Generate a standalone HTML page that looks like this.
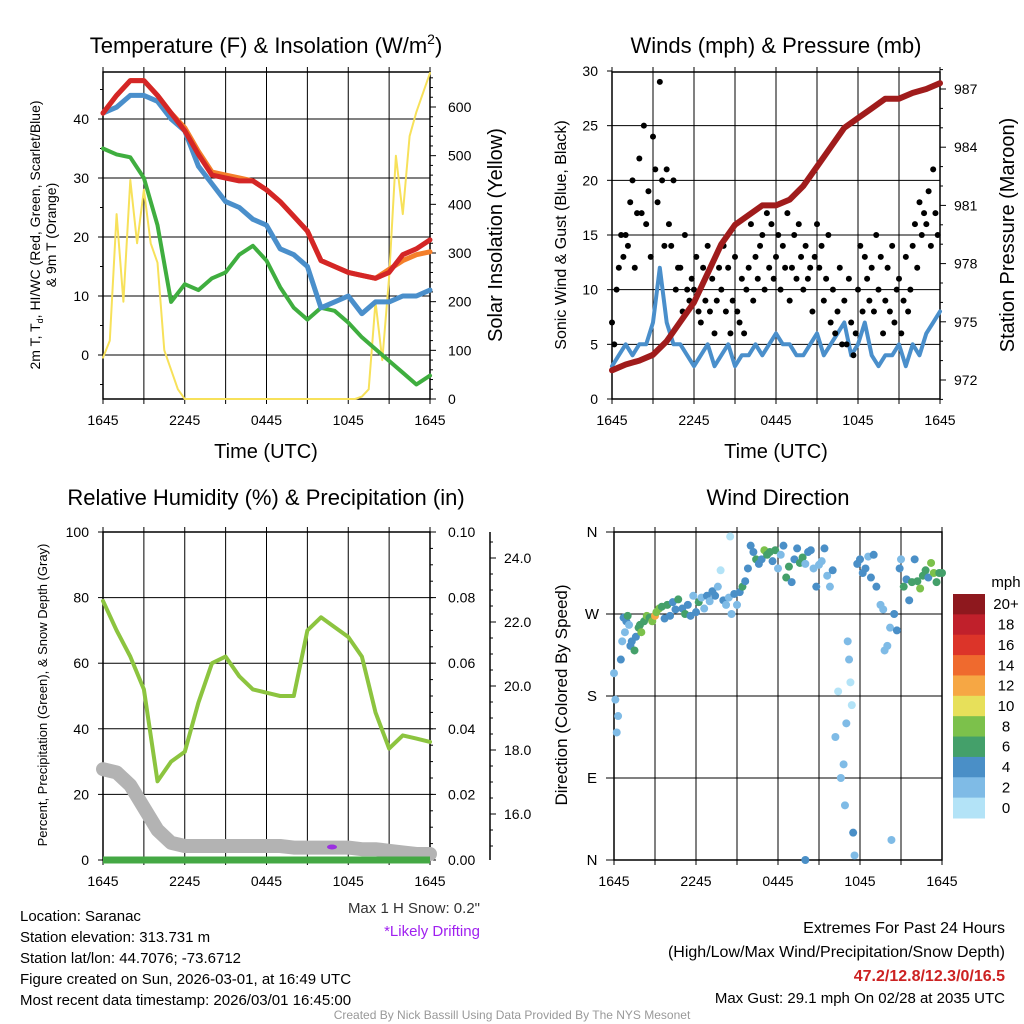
<!DOCTYPE html>
<html><head><meta charset="utf-8"><style>
body{margin:0;background:#fff}
svg{display:block;font-family:"Liberation Sans",sans-serif}
</style></head><body>
<svg id="s" width="1024" height="1024" viewBox="0 0 1024 1024">
<g id="g"></g>
</svg>
<script>
const hours=[0,1,2,3,4,5,6,7,8,9,10,11,12,13,14,15,16,17,18,19,20,21,22,23,24];
const tempRed=[41,44,46.5,46.5,44,41,38,34,30.5,30,29.5,29.5,28,26,23.5,21,16,15,14,13.5,13,14,17,18,19.5];
const tempOrange=[41,44,46.5,46.5,44,41,38.5,34.5,31,30.5,30,29.5,28,26,23.5,21,16,15,14,13.5,13,14.5,16,17,17.5];
const tempBlue=[41,42,44,44,43,40,38,32,29,26,25,23,22,18,17,15,8,9,10,7,9,9,10,10,11];
const dewGreen=[35,34,33.5,30,22,9,12,11,13,14,17,18.5,16,11.5,8,6,8,7.5,5.5,3,1,-1,-3,-5,-3.5];
const solarHalf=[85,120,380,200,450,320,430,320,280,100,60,20,0,0,0,0,0,0,0,0,0,0,0,0,0,0,0,0,0,0,0,0,0,0,0,0,0,0,5,20,200,80,250,500,380,540,590,630,670];
const pressure=[972.5,972.8,973,973.3,974,975,976,977.5,979,980,980.5,981,981,981.3,982,983,984,985,985.5,986,986.5,986.5,986.8,987,987.3];
const windHalf=[3,4,5,4,5,5,7,12,7,5,5,4,3,4,5,3,4,5,3,4,4,5,4,5,6,5,5,4,4,5,6,4,5,6,7,4,5,7,4,3,4,4,5,3,5,4,6,7,8];
const gusts=[7,5,10,12,15,13,15,14,18,20,12,17,22,17,25,16,19,13,24,21,18,29,20,14,21,16,14,20,10,12,12,8,15,10,9,11,10,13,8,7,12,9,14,8,11,6,9,12,10,14,8,12,6,9,13,8,7,11,6,10,12,16,9,13,11,14,15,10,17,12,16,11,13,15,10,14,12,17,9,12,15,11,16,13,10,14,11,12,8,13,16,12,14,9,11,15,7,10,6,8,12,5,9,5,11,7,4,6,10,14,8,13,11,9,12,8,15,10,13,6,9,12,8,14,7,10,11,6,9,13,8,10,14,16,12,18,15,17,16,19,14,21,17,15];
const rh=[79,70,62,52,24,30,33,48,60,62,56,52,51,50,50,70,74,71,68,62,45,34,38,37,36];
const snowDepth=[17.4,17.3,16.9,16.2,15.5,15.1,15,15,15,15,15,15,15,15,14.95,14.95,14.95,14.95,14.95,14.9,14.9,14.85,14.8,14.75,14.75];
const dirTime=[0,0.1,0.2,0.3,0.5,0.6,0.7,0.8,0.9,1,1.1,1.2,1.3,1.5,1.6,1.8,1.9,2,2.2,2.4,2.6,2.8,3,3.1,3.3,3.5,3.7,3.9,4.1,4.3,4.5,4.7,5,5.2,5.4,5.6,5.8,6,6.2,6.4,6.6,6.8,7,7.2,7.4,7.6,7.8,8,8.2,8.4,8.5,8.6,8.8,9,9.2,9.4,9.6,9.8,10,10.2,10.4,10.6,10.8,11,11.2,11.4,11.6,11.8,12,12.2,12.4,12.6,12.8,13,13.2,13.4,13.6,13.8,14,14,14.2,14.4,14.6,14.8,15,15.2,15.4,15.6,15.8,16,16.2,16.4,16.6,16.8,16.9,17,17.1,17.2,17.3,17.4,17.5,17.6,17.8,18,18.2,18.4,18.6,18.8,19,19.2,19.5,19.7,19.8,20,20.2,20.3,20.5,20.7,20.9,21,21.2,21.4,21.6,21.8,22,22.2,22.4,22.6,22.8,23,23.2,23.4,23.6,23.8,24];
const dirDeg=[205,176,140,158,220,240,266,250,262,268,258,235,240,230,245,255,258,250,262,268,266,262,268,272,276,278,265,280,268,283,275,286,276,270,280,268,290,272,283,288,276,290,284,295,290,300,318,285,280,288,355,270,292,280,294,300,306,320,345,338,330,325,330,340,335,338,328,340,320,335,345,310,322,305,330,342,326,332,325,0,338,340,320,300,324,328,342,312,300,318,135,185,90,105,60,150,240,220,195,170,30,5,325,330,315,320,333,310,335,300,280,275,230,235,255,22,270,252,320,330,300,308,285,305,330,306,298,312,318,310,326,315,305,315,315];
const dirSpd=[3,3,3,3,4,3,4,3,4,6,3,4,4,6,4,7,6,8,6,8,6,8,12,9,8,7,4,6,4,5,4,6,4,6,5,4,3,4,6,3,3,5,3,4,4,2,1,4,3,3,0,3,4,3,5,6,4,4,4,4,6,5,4,8,6,7,4,6,3,3,4,6,6,4,4,4,6,7,3,4,5,4,3,4,2,3,4,3,2,4,2,1,3,3,3,2,3,3,1,1,4,3,4,4,4,4,2,4,4,4,2,2,2,3,2,3,4,4,4,3,6,4,4,6,4,6,8,6,7,4,8,8,7,6,7];
const cbLabels=["20+","18","16","14","12","10","8","6","4","2","0"];
const cbColors=["#8e181e","#c0202b","#dc3429","#ef6a2e","#f6a744","#e7e05a","#7cc14b","#44a06a","#4a8fc7","#7fbbe6","#b3e3f7"];
const xLabels=["1645","2245","0445","1045","1645"];

const NS="http://www.w3.org/2000/svg";
const G=document.getElementById('g');
function el(tag,attrs,parent,text){const e=document.createElementNS(NS,tag);for(const k in attrs)e.setAttribute(k,attrs[k]);if(text!==undefined)e.textContent=text;(parent||G).appendChild(e);return e;}
function lin(d0,d1,r0,r1){return v=>r0+(v-d0)*(r1-r0)/(d1-d0);}
function poly(xs,ys,fx,fy,stroke,w,name,parent){
  let p=xs.map((x,i)=>fx(x).toFixed(1)+','+fy(ys[i]).toFixed(1)).join(' ');
  const e=el('polyline',{points:p,fill:'none',stroke:stroke,'stroke-width':w,'stroke-linejoin':'round','stroke-linecap':'round'},parent);
  
  
  return e;}
function txt(x,y,s,size,anchor,name,extra){const e=el('text',Object.assign({x:x,y:y,'font-size':size,'text-anchor':anchor||'middle'},extra||{}),G,s);
  
  
  return e;}
function frame(x0,x1,y0,y1,hGrid,name){
  const g=el('g',{});
  
  
  for(let i=1;i<8;i++){const x=x0+(x1-x0)*i/8;el('line',{x1:x,x2:x,y1:y0,y2:y1,stroke:'#000','stroke-width':1},g);}
  hGrid.forEach(y=>el('line',{x1:x0,x2:x1,y1:y,y2:y,stroke:'#000','stroke-width':1},g));
  el('rect',{x:x0,y:y0,width:x1-x0,height:y1-y0,fill:'none',stroke:'#000','stroke-width':1.5},g);
  for(let i=0;i<=8;i++){const x=x0+(x1-x0)*i/8;el('line',{x1:x,x2:x,y1:y1,y2:y1+5,stroke:'#000'},g);el('line',{x1:x,x2:x,y1:y0,y2:y0-5,stroke:'#000'},g);}
  xLabels.forEach((l,i)=>{el('text',{x:x0+(x1-x0)*i/4,y:y1+26,'font-size':14,'text-anchor':'middle'},g,l);});
  return g;}
function rot(x,y,s,size,name,fill){const e=el('text',{x:0,y:0,'font-size':size,'text-anchor':'middle',transform:`translate(${x},${y}) rotate(-90)`,fill:fill||'#000'},G,s);
  
  
  return e;}

// ---------- Panel 1 ----------
{const x0=103,x1=430,y0=72,y1=399;
const fx=lin(0,24,x0,x1), fy=lin(0,40,355,119), fs=lin(0,600,399,107);
frame(x0,x1,y0,y1,[0,10,20,30,40].map(fy),'temp-plot-frame');
[0,10,20,30,40].forEach(v=>{el('line',{x1:x0-5,x2:x0,y1:fy(v),y2:fy(v),stroke:'#000'});txt(x0-14,fy(v)+5,String(v),14,'end','temp-tick-label');});
[-5,5,15,25,35,45].forEach(v=>el('line',{x1:x0-3,x2:x0,y1:fy(v),y2:fy(v),stroke:'#000'}));
for(let v=0;v<=670;v+=20){el('line',{x1:x1,x2:x1+(v%100==0?6:3),y1:fs(v),y2:fs(v),stroke:'#000'});}
[0,100,200,300,400,500,600].forEach(v=>txt(x1+18,fs(v)+5,String(v),14,'start','solar-tick-label'));
const hh=solarHalf.map((_,i)=>i/2);
poly(hh,solarHalf,fx,fs,'#f7e15a',2,'solar-line');
poly(hours,dewGreen,fx,fy,'#3fae3f',4,'dewpoint-line');
poly(hours,tempBlue,fx,fy,'#4a8fcb',5,'windchill-line');
poly(hours,tempOrange,fx,fy,'#f47f2a',5,'temp-9m-line');
poly(hours,tempRed,fx,fy,'#d42626',5,'temp-2m-line');
txt(266,53,'',22,'middle','temp-chart-title').innerHTML='Temperature (F) &amp; Insolation (W/m<tspan font-size="14" dy="-9">2</tspan><tspan dy="9">)</tspan>';
txt(266,458,'Time (UTC)',20,'middle','temp-x-axis-title');
rot(40,235,'',14,'temp-y-axis-title').innerHTML='2m T, T<tspan font-size="9" dy="3">d</tspan><tspan dy="-3">, HI/WC (Red, Green, Scarlet/Blue)</tspan>';
rot(56,235,'& 9m T (Orange)',14,'temp-y-axis-title-2');
rot(502,235,'Solar Insolation (Yellow)',20,'solar-y-axis-title');}

// ---------- Panel 2 ----------
{const x0=612,x1=940,y0=72,y1=399;
const fx=lin(0,24,x0,x1), fy=lin(0,30,399,71), fp=lin(972,987,380,89);
frame(x0,x1,y0,y1,[5,10,15,20,25].map(fy),'wind-plot-frame');
[0,5,10,15,20,25,30].forEach(v=>{el('line',{x1:x0-5,x2:x0,y1:fy(v),y2:fy(v),stroke:'#000'});txt(x0-14,fy(v)+5,String(v),14,'end','wind-tick-label');});
for(let v=971;v<=988;v++){el('line',{x1:x1,x2:x1+(v%3==0?6:3),y1:fp(v),y2:fp(v),stroke:'#000'});}
[972,975,978,981,984,987].forEach(v=>txt(x1+14,fp(v)+5,String(v),14,'start','pressure-tick-label'));
poly(windHalf.map((_,i)=>i/2),windHalf,fx,fy,'#4a8fcb',4,'sonic-wind-line');
gusts.forEach((v,i)=>{const c=el('circle',{cx:fx(i/6),cy:fy(v),r:3,fill:'#000'});

});
poly(hours,pressure,fx,fp,'#a01c1c',6,'pressure-line');
txt(776,53,'Winds (mph) & Pressure (mb)',22,'middle','wind-chart-title');
txt(776,458,'Time (UTC)',20,'middle','wind-x-axis-title');
rot(566,235,'Sonic Wind & Gust (Blue, Black)',16,'wind-y-axis-title');
rot(1014,235,'Station Pressure (Maroon)',20,'pressure-y-axis-title');}

// ---------- Panel 3 ----------
{const x0=103,x1=430,y0=532,y1=860;
const fx=lin(0,24,x0,x1), fy=lin(0,100,860,532), fsn=lin(16,24,814,558);
frame(x0,x1,y0,y1,[20,40,60,80].map(fy),'rh-plot-frame');
[0,20,40,60,80,100].forEach(v=>{el('line',{x1:x0-5,x2:x0,y1:fy(v),y2:fy(v),stroke:'#000'});txt(x0-14,fy(v)+5,String(v),14,'end','rh-tick-label');});
[0,0.02,0.04,0.06,0.08,0.10].forEach(v=>{const y=fy(v*1000);el('line',{x1:x1,x2:x1+6,y1:y,y2:y,stroke:'#000'});txt(x1+18,y+5,v.toFixed(2),14,'start','precip-tick-label');});
for(let v=0;v<=100;v+=5)el('line',{x1:x1,x2:x1+3,y1:fy(v),y2:fy(v),stroke:'#000'});
el('line',{x1:490,x2:490,y1:532,y2:860,stroke:'#000','stroke-width':1.5});
for(let v=15;v<=24.5;v+=0.5){el('line',{x1:490,x2:490+(v%2==0?6:3),y1:fsn(v),y2:fsn(v),stroke:'#000'});}
[16,18,20,22,24].forEach(v=>txt(504,fsn(v)+5,v.toFixed(1),14,'start','snow-tick-label'));
poly(hours,snowDepth,fx,fsn,'#b3b3b3',14,'snow-depth-line');
el('line',{x1:x0,x2:x1,y1:860,y2:860,stroke:'#44a844','stroke-width':7});
el('ellipse',{cx:332,cy:847,rx:5,ry:2.5,fill:'#9b30e0'});
poly(hours,rh,fx,fy,'#8cc43f',4,'rh-line');
txt(266,505,'Relative Humidity (%) & Precipitation (in)',22,'middle','rh-chart-title');
rot(47,695,'Percent, Precipitation (Green), & Snow Depth (Gray)',13,'rh-y-axis-title');
txt(480,913,'Max 1 H Snow: 0.2"',15,'end','max-snow-label',{fill:'#333'});
txt(432,936,'*Likely Drifting',15,'middle','drifting-note',{fill:'#a020f0'});}

// ---------- Panel 4 ----------
{const x0=614,x1=942,y0=532,y1=860;
const fx=lin(0,24,x0,x1), fy=lin(0,360,860,532);
frame(x0,x1,y0,y1,[90,180,270].map(fy),'direction-plot-frame');
["N","E","S","W","N"].forEach((l,i)=>{const y=fy(i*90);el('line',{x1:x0-8,x2:x0,y1:y,y2:y,stroke:'#000'});txt(x0-22,y+5,l,15,'middle','direction-tick-label');});
dirTime.forEach((t,i)=>{const k=Math.min(10,Math.floor(dirSpd[i]/2));const c=el('circle',{cx:fx(t),cy:fy(dirDeg[i]),r:4,fill:cbColors[10-k]});

});
txt(778,505,'Wind Direction',22,'middle','direction-chart-title');
rot(567,695,'Direction (Colored By Speed)',17,'direction-y-axis-title');
const bh=224/11;
cbColors.forEach((c,i)=>{const r=el('rect',{x:953,y:594+i*bh,width:32,height:bh+0.5,fill:c});


txt(1006,594+i*bh+bh/2+5,cbLabels[i],15,'middle','colorbar-label');});
txt(1006,587,'mph',15,'middle','colorbar-title');}

// ---------- footer text ----------
['Location: Saranac','Station elevation: 313.731 m','Station lat/lon: 44.7076; -73.6712','Figure created on Sun, 2026-03-01, at 16:49 UTC','Most recent data timestamp: 2026/03/01 16:45:00'].forEach((s,i)=>txt(20,921+i*21,s,15,'start','station-info-line'));
txt(1005,933,'Extremes For Past 24 Hours',16,'end','extremes-title');
txt(1005,957,'(High/Low/Max Wind/Precipitation/Snow Depth)',16,'end','extremes-subtitle');
txt(1005,981,'47.2/12.8/12.3/0/16.5',16,'end','extremes-values',{fill:'#cc2222','font-weight':'bold'});
txt(1005,1003,'Max Gust: 29.1 mph On 02/28 at 2035 UTC',15,'end','max-gust-label');
txt(512,1019,'Created By Nick Bassill Using Data Provided By The NYS Mesonet',12,'middle','credit-footer',{fill:'#999'});
</script>
</body></html>
